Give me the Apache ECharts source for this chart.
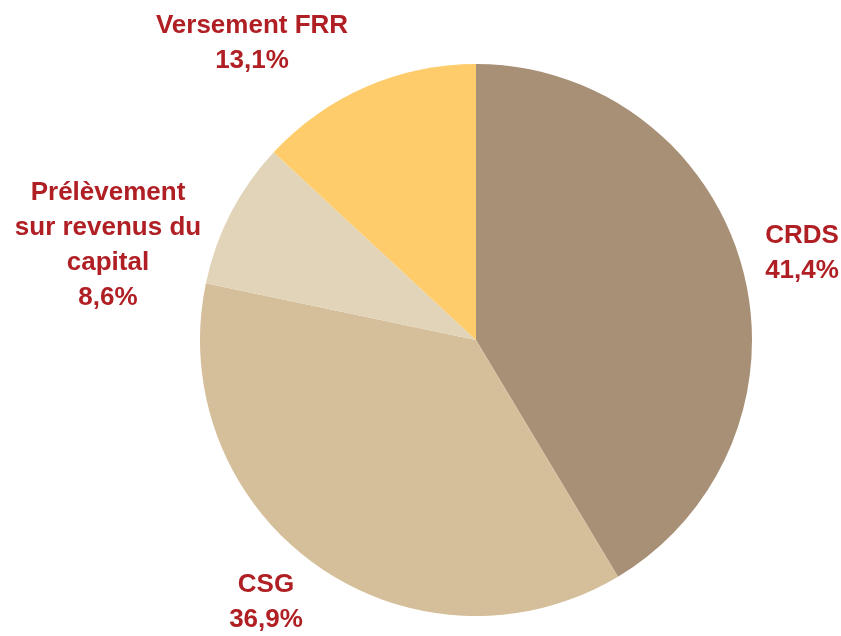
<!DOCTYPE html>
<html>
<head>
<meta charset="utf-8">
<script src="https://cdn.jsdelivr.net/npm/echarts@6/dist/echarts.min.js"></script>
<style>
  html, body { margin: 0; padding: 0; background: #fff; }
  #pie { width: 841px; height: 636px; }
</style>
</head>
<body>
<div id="pie"></div>
<script>
var names = ["CRDS", "CSG", "Prélèvement\nsur revenus du\ncapital", "Versement FRR"];
var values = [41.4, 36.9, 8.6, 13.1];
var colors = ["#A89077", "#D5BF9B", "#E2D4B8", "#FECC6B"];
// where each label block sits (center of the text block)
var labelPos = [[802, 253], [266, 602], [108, 245], [252, 43]];

var myChart = echarts.init(document.getElementById("pie"));
myChart.setOption({
  animation: false,
  series: [
    {
      type: "pie",
      center: [476, 340],
      radius: 276,
      startAngle: 90,
      clockwise: true,
      avoidLabelOverlap: false,
      data: names.map(function (n, i) {
        return { name: n, value: values[i], itemStyle: { color: colors[i] } };
      }),
      label: {
        show: true,
        position: "outside",
        overflow: "none",
        edgeDistance: 0,
        formatter: function (p) {
          return p.name + "\n" + p.value.toFixed(1).replace(".", ",") + "%";
        },
        color: "#B01F24",
        fontFamily: "'Liberation Sans Narrow', 'Arial Narrow', sans-serif",
        fontWeight: "bold",
        fontSize: 26,
        lineHeight: 35,
        align: "center"
      },
      labelLine: { show: false },
      labelLayout: function (p) {
        var pos = labelPos[p.dataIndex];
        return { x: pos[0], y: pos[1], align: "center", verticalAlign: "middle" };
      }
    }
  ]
});
</script>
</body>
</html>
